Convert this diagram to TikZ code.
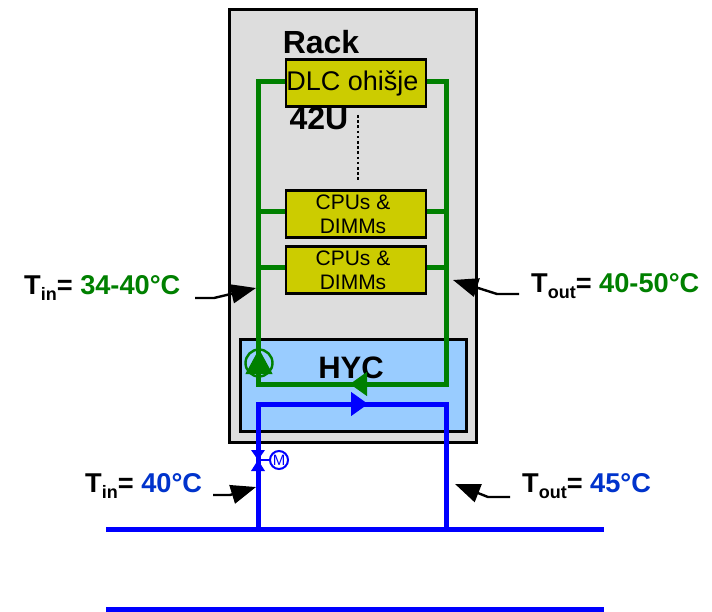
\documentclass[tikz,border=0pt]{standalone}
\usepackage{fontspec}
\setmainfont{Liberation Sans}
\usepackage{xcolor}
\usetikzlibrary{arrows.meta,positioning}
\newcommand{\tsub}[1]{\raisebox{-6pt}{\fontsize{18}{20}\selectfont #1}}
\definecolor{rackgray}{HTML}{DDDDDD}
\definecolor{hycblue}{HTML}{99CCFF}
\definecolor{boardyellow}{HTML}{CCCC00}
\definecolor{loopgreen}{HTML}{008000}
\definecolor{loopblue}{HTML}{0000FF}
\definecolor{textblue}{HTML}{0033CC}

\begin{document}
\begin{tikzpicture}[x=1pt,y=-1pt,>=Stealth,
  board/.style={draw=black,line width=2.6pt,fill=boardyellow,minimum width=140pt,inner sep=0pt,align=center},
  greenpipe/.style={draw=loopgreen,line width=5pt},
  bluepipe/.style={draw=loopblue,line width=5pt},
  pointer/.style={draw=black,line width=2.4pt,-{Triangle[length=25pt,width=19pt]}},
  templabel/.style={font=\fontsize{27.2}{30}\selectfont\bfseries,inner sep=0pt}]
  \useasboundingbox (0,0) rectangle (712,612);

  \node[draw=black,line width=2.6pt,fill=rackgray,minimum width=247pt,minimum height=433pt,inner sep=0pt] (rack) at (353,226) {};
  \node[draw=black,line width=2.4pt,fill=hycblue,minimum width=226pt,minimum height=92pt,inner sep=0pt] (hyc) at (353.5,385.5) {};
  \node[font=\fontsize{31}{34}\selectfont\bfseries,inner sep=0pt] (hyctext) at (351,368) {HYC};
  \node[font=\fontsize{32}{36}\selectfont\bfseries,inner sep=0pt] (rackname) at (321,42) {Rack};
  \node[font=\fontsize{32}{36}\selectfont\bfseries,inner sep=0pt] (rackunits) at (319,118) {42U};

  % green loop
  \coordinate (gtl) at (258,82);
  \coordinate (gtr) at (446,82);
  \coordinate (gbl) at (258,384);
  \coordinate (gbr) at (446,384);
  \coordinate (gmid) at (350,384);
  \draw[greenpipe,line join=miter] (gtl) -- (gbl) -- (gbr) -- (gtr) -- cycle;
  \draw[greenpipe] (258,212) -- (446,212);
  \draw[greenpipe] (258,268) -- (446,268);
  \draw[-{Triangle[length=17pt,width=24pt]},loopgreen,line width=1pt] (gbr) -- (gmid);

  % boards
  \node[board,minimum height=47pt,font=\fontsize{27}{30}\selectfont] (dlc) at (356,83) {DLC ohišje\hspace*{7pt}};
  \node[board,minimum height=47pt,font=\fontsize{21}{24}\selectfont] (cpua) at (356,214) {CPUs \&\hspace*{6pt}\\DIMMs\hspace*{6pt}};
  \node[board,minimum height=47pt,font=\fontsize{21}{24}\selectfont] (cpub) at (356,270) {CPUs \&\hspace*{6pt}\\DIMMs\hspace*{6pt}};
  \coordinate (dota) at (358,115);
  \coordinate (dotb) at (358,182);
  \draw[black,line width=2.6pt,dash pattern=on 2.6pt off 2.6pt] (dota) -- (dotb);

  % pump
  \node[draw=loopgreen,line width=2.4pt,circle,minimum size=27pt,inner sep=0pt] (pump) at (259,363) {};
  \coordinate (pumpbase) at (259,374);
  \coordinate (pumptip) at (259,349);
  \draw[-{Triangle[length=25pt,width=27pt]},loopgreen,line width=1pt] (pumpbase) -- (pumptip);

  % blue loop
  \coordinate (btl) at (258,404);
  \coordinate (btr) at (446,404);
  \coordinate (bbl) at (258,529);
  \coordinate (bbr) at (446,529);
  \coordinate (bmid) at (368,404);
  \draw[bluepipe,line join=miter] (bbl) -- (btl) -- (btr) -- (bbr);
  \draw[-{Triangle[length=17pt,width=24pt]},loopblue,line width=1pt] (btl) -- (bmid);
  \coordinate (supl) at (106,529);
  \coordinate (supr) at (604,529);
  \coordinate (retl) at (106,609);
  \coordinate (retr) at (604,609);
  \draw[bluepipe] (supl) -- (supr);
  \draw[bluepipe] (retl) -- (retr);

  % valve
  \coordinate (valve) at (258,460);
  \node[draw=loopblue,line width=2pt,circle,minimum size=18pt,inner sep=0pt,text=loopblue,font=\fontsize{15}{16}\selectfont] (motor) at (279,460) {M};
  \draw[loopblue,line width=2pt] (valve) -- (motor);
  \fill[loopblue] (valve) -- (251,450) -- (265,450) -- cycle;
  \fill[loopblue] (valve) -- (251,471) -- (265,471) -- cycle;

  % labels
  \node[templabel,anchor=west] (tinrack) at (24,288) {T\tsub{in}= \textcolor{loopgreen}{34-40°C}};
  \node[templabel,anchor=west] (toutrack) at (531,286) {T\tsub{out}= \textcolor{loopgreen}{40-50°C}};
  \node[templabel,anchor=west] (tinfac) at (85,486) {T\tsub{in}= \textcolor{textblue}{40°C}};
  \node[templabel,anchor=west] (toutfac) at (522,486) {T\tsub{out}= \textcolor{textblue}{45°C}};

  % pointers
  \coordinate (pa) at (195,298);
  \coordinate (pb) at (256,288);
  \coordinate (pc) at (519,294);
  \coordinate (pd) at (453,280);
  \coordinate (pe) at (213,495);
  \coordinate (pf) at (256,487);
  \coordinate (pg) at (510,497);
  \coordinate (ph) at (455,484);
  \draw[pointer] (pa) -- (214,298) -- (pb);
  \draw[pointer] (pc) -- (497,294) -- (pd);
  \draw[pointer] (pe) -- (230,495) -- (pf);
  \draw[pointer] (pg) -- (488,497) -- (ph);
\end{tikzpicture}
\end{document}
